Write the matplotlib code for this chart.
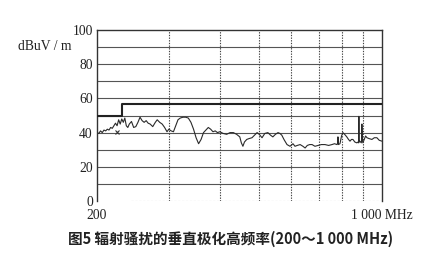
import matplotlib
matplotlib.use('Agg')
import matplotlib.pyplot as plt
from matplotlib.ticker import NullLocator

freq = [200, 202, 204, 206, 208, 210, 212, 214, 216, 218, 220, 222, 224, 226, 228,
        230, 232, 234, 236, 238, 240, 243, 246, 249, 252, 255, 258, 261, 264, 267,
        270, 274, 278, 281, 285, 289, 293, 297, 300, 304, 308, 312, 316, 320, 325,
        330, 335, 340, 345, 350, 355, 360, 365, 370, 375, 380, 385, 390, 395, 400,
        408, 416, 424, 432, 440, 448, 452, 456, 460, 466, 472, 480, 487, 494, 500,
        508, 516, 525, 533, 540, 548, 556, 562, 568, 575, 585, 595, 605, 612, 620,
        630, 640, 648, 656, 665, 674, 685, 697, 710, 725, 740, 754, 765, 776, 779,
        780, 782, 789, 796, 802, 810, 820, 828, 835, 842, 849, 858, 868, 874, 877,
        878, 879, 883, 890, 892, 893, 895, 898, 905, 912, 919, 930, 945, 958, 972,
        985, 1000]
level = [40, 39.5, 41, 40, 41.5, 41, 42, 41.5, 43, 42.5, 44, 45.5, 44, 47.5, 45,
         48, 46, 48.5, 44, 43, 45, 46.5, 43, 43.5, 46, 49, 47, 46, 47, 45.5,
         45, 43.5, 46, 47.5, 46, 45, 43, 40.5, 42, 41, 40.5, 44, 47.5, 48.5, 49,
         49, 48.5, 46, 42, 37, 33.5, 36, 40, 41.5, 43, 42, 40.5, 41, 40, 40.5,
         39.5, 39, 40, 40, 39, 37.5, 34, 32, 34.5, 36, 36.5, 37, 38.5, 40, 39,
         37, 39.5, 40, 38.5, 37.5, 39, 40, 39.5, 38.5, 36, 33, 32, 33.5, 32, 32.5,
         33, 32, 31, 32.5, 33, 33, 32, 32.5, 33, 33, 32.5, 33, 33.5, 33, 34,
         37.5, 33, 33.5, 38, 40, 39, 37.5, 36, 35, 36, 36, 34.5, 34, 34.5, 34,
         49.5, 34.5, 35, 34, 36, 45, 36, 34, 36, 38, 37, 36.5, 36, 37, 37,
         35.5, 35]

# limit line
lim_freq = [200, 230, 230, 1000]
lim_level = [50, 50, 57, 57]

grid_db = [10, 20, 30, 40, 50, 60, 70, 80, 90]
grid_mhz = [300, 400, 500, 600, 700, 800, 900]
ytick_vals = [0, 20, 40, 60, 80, 100]
xtick_vals = [200, 1000]
xtick_labels = ['200', '1 000 MHz']

fig = plt.figure(figsize=(4.4, 2.65), dpi=100)
ax = fig.add_axes([0.2205, 0.2415, 0.6475, 0.6453])

for g in grid_db:
    ax.axhline(g, color='#555555', lw=0.8, zorder=1)
for g in grid_mhz:
    ax.axvline(g, color='#444444', lw=0.8, ls=(0, (1.2, 1.2)), zorder=1)
# faint zero line
ax.axhline(0, xmin=0.12, xmax=1, color='#aaaaaa', lw=0.8, ls=(0, (2, 1.5)), zorder=1)

ax.plot(lim_freq, lim_level, color='#222222', lw=1.5, zorder=3)
ax.plot(freq, level, color='#2a2a2a', lw=0.8, zorder=2)
ax.plot([224], [40.5], marker='x', ms=3, mew=0.8, color='#333333', zorder=3)

ax.set_xscale('log')
ax.set_xlim(200, 1000)
ax.set_ylim(0, 100)
ax.xaxis.set_minor_locator(NullLocator())
ax.set_xticks(xtick_vals)
ax.set_xticklabels(xtick_labels)
ax.set_yticks(ytick_vals)
ax.tick_params(length=0, labelsize=9.8)
ax.tick_params(axis='x', pad=6)
ax.tick_params(axis='y', pad=3)
for lab in ax.get_xticklabels() + ax.get_yticklabels():
    lab.set_family('Liberation Serif')
    lab.set_color('#222222')

for s in ['left', 'right', 'top']:
    ax.spines[s].set_color('#333333')
    ax.spines[s].set_linewidth(1.0)
ax.spines['bottom'].set_visible(False)

fig.text(71 / 440, 1 - 46 / 265, 'dBuV / m', ha='right', va='center',
         family='Liberation Serif', fontsize=9.8, color='#222222')

fig.text(231 / 440, 1 - 239 / 265, '图5 辐射骚扰的垂直极化高频率(200～1 000 MHz)',
         ha='center', va='center', family=['Noto Sans CJK SC', 'DejaVu Sans'],
         fontsize=10.5, fontweight='bold', color='#222222')

fig.savefig('out.png', dpi=100, facecolor='white')
